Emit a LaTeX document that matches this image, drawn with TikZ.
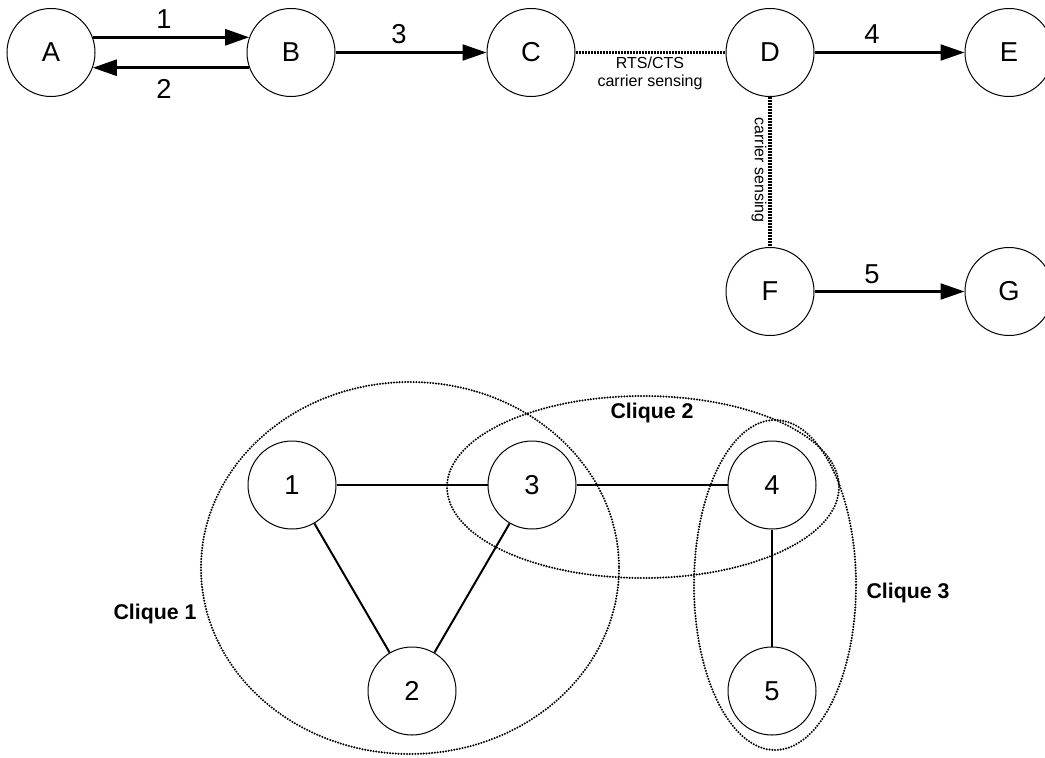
\documentclass[tikz,border=0pt]{standalone}
\usepackage{fontspec}
\setmainfont{Liberation Sans}
\usetikzlibrary{arrows.meta}

\tikzset{every picture/.style={line width=0.75pt}}
\tikzset{
  station/.style={circle, draw, minimum size=66pt, inner sep=0pt, font=\fontsize{20.5}{24}\selectfont},
  flow/.style={line width=1.6pt, -{Triangle[length=18pt,width=12pt]}},
  bigflow/.style={flow, line width=2.1pt},
  sensing/.style={line width=2.5pt, dash pattern=on 1.5pt off 0.75pt},
  link/.style={line width=1.5pt},
  clique/.style={line width=1.7pt, line cap=round, dash pattern=on 0pt off 2.1pt},
  numlabel/.style={inner sep=0.75pt, font=\fontsize{20.5}{24}\selectfont},
  smalllabel/.style={inner sep=0.75pt, align=center, font=\fontsize{12}{13.5}\selectfont},
  cliquelabel/.style={inner sep=0.75pt, font=\bfseries\fontsize{16}{19}\selectfont}
}

\begin{document}
\begin{tikzpicture}[x=0.75pt,y=0.75pt,yscale=-1,xscale=1]
\useasboundingbox (0,0) rectangle (1045,757);

% Stations
\node [station] (A) at (51,52.5) {A};
\node [station] (B) at (291,52.5) {B};
\node [station] (C) at (531,52.5) {C};
\node [station] (D) at (770,52.5) {D};
\node [station] (E) at (1009,52.5) {E};
\node [station] (F) at (770,291.5) {F};
\node [station] (G) at (1009,291.5) {G};

%Straight Lines
\draw [bigflow] (A.20) -- (B.160) ;
\draw [bigflow] (B.200) -- (A.-20) ;
\draw [flow] (B) -- (C) ;
\draw [flow] (D) -- (E) ;
\draw [flow] (F) -- (G) ;
\draw [sensing] (C) -- (D) ;
\draw [sensing] (D) -- (F) ;

% Text Node
\node [numlabel] (l1) at (164,19.5) {1};
% Text Node
\node [numlabel] (l2) at (164,89) {2};
% Text Node
\node [numlabel] (l3) at (399,34) {3};
% Text Node
\node [numlabel] (l4) at (872,34) {4};
% Text Node
\node [numlabel] (l5) at (872,274) {5};
% Text Node
\node [smalllabel] (rts) at (650,73) {RTS/CTS\\carrier sensing};
% Text Node
\node [smalllabel, rotate=-90] (cs) at (759,170) {carrier sensing};

% Conflict graph
\node [station] (n1) at (292,485) {1};
\node [station] (n3) at (532,485) {3};
\node [station] (n4) at (772,485) {4};
\node [station] (n2) at (412,691) {2};
\node [station] (n5) at (772,691) {5};

%Straight Lines
\draw [link] (n1) -- (n3) ;
\draw [link] (n3) -- (n4) ;
\draw [link] (n1) -- (n2) ;
\draw [link] (n3) -- (n2) ;
\draw [link] (n4) -- (n5) ;

%Shape: Ellipse
\draw [clique] (410,568) ellipse [x radius=209, y radius=186] ;
%Shape: Ellipse
\draw [clique] (643,487) ellipse [x radius=196, y radius=91] ;
%Shape: Ellipse
\draw [clique] (775,585) ellipse [x radius=81, y radius=165] ;

% Text Node
\node [cliquelabel] (c1) at (155,614) {Clique 1};
% Text Node
\node [cliquelabel] (c2) at (652,413) {Clique 2};
% Text Node
\node [cliquelabel] (c3) at (908,593) {Clique 3};
\end{tikzpicture}
\end{document}
